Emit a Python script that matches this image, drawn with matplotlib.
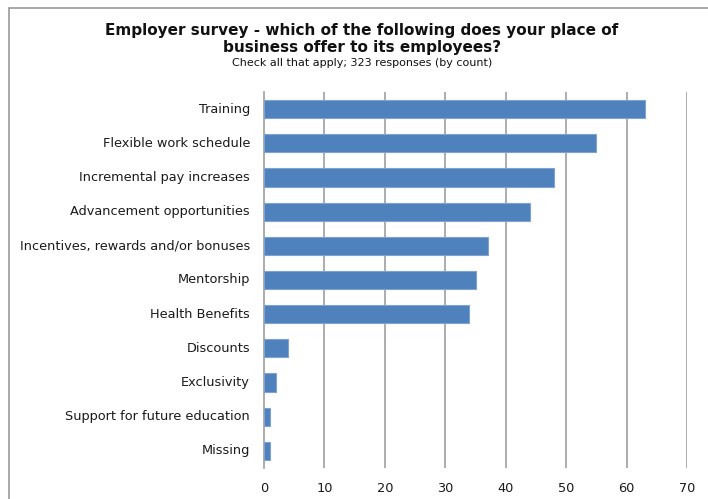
import matplotlib
matplotlib.use("Agg")
import matplotlib.pyplot as plt
from matplotlib.patches import Rectangle

categories = [
    "Training",
    "Flexible work schedule",
    "Incremental pay increases",
    "Advancement opportunities",
    "Incentives, rewards and/or bonuses",
    "Mentorship",
    "Health Benefits",
    "Discounts",
    "Exclusivity",
    "Support for future education",
    "Missing",
]
counts = [63, 55, 48, 44, 37, 35, 34, 4, 2, 1, 1]
x_ticks = [0, 10, 20, 30, 40, 50, 60, 70]

title_line = "Employer survey - which of the following does your place of\nbusiness offer to its employees?"
subtitle = "Check all that apply; 323 responses (by count)"

plt.rcParams["font.family"] = ["DejaVu Sans"]

W, H = 708, 499
fig = plt.figure(figsize=(W / 100, H / 100), dpi=100)
fig.patch.set_facecolor("white")

# outer chart frame (open on the right and bottom edges)
fig.patches.append(Rectangle((9 / W, -0.05), 1.2, 1 - 8 / H + 0.05,
                             transform=fig.transFigure, fill=False,
                             edgecolor="#9a9a9a", linewidth=1.2))

left, right, top, bottom = 264, 687, 92, 468
ax = fig.add_axes([left / W, 1 - bottom / H, (right - left) / W, (bottom - top) / H])

ypos = list(range(len(categories)))
ax.barh(ypos, counts, height=0.53, color="#4F81BD", edgecolor="#7FA3D1",
        linewidth=0.8, zorder=3)
ax.set_ylim(len(categories) - 0.5, -0.5)
ax.set_xlim(0, 70)
ax.set_xticks(x_ticks)
ax.set_yticks(ypos)
ax.set_yticklabels(categories, fontsize=9.3, color="#1a1a1a", va="center")
ax.tick_params(axis="y", length=0, pad=10)
ax.tick_params(axis="x", length=0, pad=10, labelsize=9.3, labelcolor="#1a1a1a")

for v in x_ticks[1:]:
    ax.axvline(v, color="#9e9e9e", linewidth=1.2, zorder=1)

for s in ["top", "right", "bottom"]:
    ax.spines[s].set_visible(False)
ax.spines["left"].set_color("#9e9e9e")
ax.spines["left"].set_linewidth(1.2)

fig.text(362 / W, 1 - 39 / H, title_line, ha="center", va="center",
         fontsize=11, fontweight="bold", color="#111111", linespacing=1.1)
fig.text(362 / W, 1 - 63 / H, subtitle, ha="center", va="center",
         fontsize=8, color="#111111")

fig.savefig("out.png", dpi=100, facecolor="white")
